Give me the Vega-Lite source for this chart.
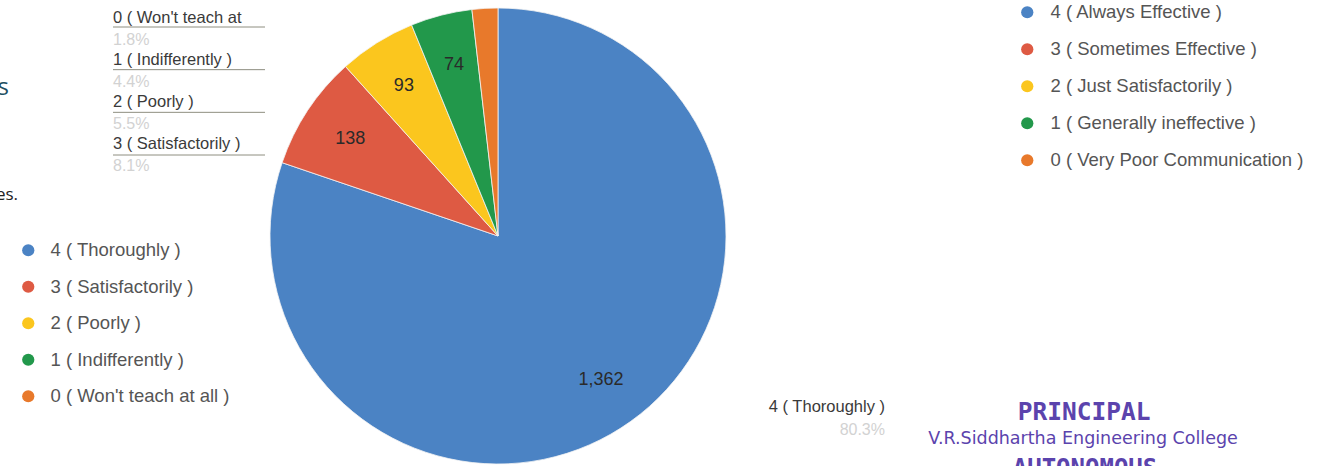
{
  "$schema": "https://vega.github.io/schema/vega-lite/v6.json",
  "autosize": {"type": "none"},
  "width": 1339,
  "height": 466,
  "padding": 0,
  "background": "#ffffff",
  "config": {"view": {"stroke": null}, "font": "Liberation Sans"},
  "datasets": {
    "teach": [
      {"key": 4, "label": "4 ( Thoroughly )", "callout": "4 ( Thoroughly )", "count": 1362, "pct": "80.3%"},
      {"key": 3, "label": "3 ( Satisfactorily )", "callout": "3 ( Satisfactorily )", "count": 138, "pct": "8.1%"},
      {"key": 2, "label": "2 ( Poorly )", "callout": "2 ( Poorly )", "count": 93, "pct": "5.5%"},
      {"key": 1, "label": "1 ( Indifferently )", "callout": "1 ( Indifferently )", "count": 74, "pct": "4.4%"},
      {"key": 0, "label": "0 ( Won't teach at all )", "callout": "0 ( Won't teach at", "count": 31, "pct": "1.8%"}
    ],
    "comm": [
      {"label": "4 ( Always Effective )"},
      {"label": "3 ( Sometimes Effective )"},
      {"label": "2 ( Just Satisfactorily )"},
      {"label": "1 ( Generally ineffective )"},
      {"label": "0 ( Very Poor Communication )"}
    ]
  },
  "layer": [
    {
      "data": {"name": "teach"},
      "mark": {"type": "arc", "x": 498, "y": 236, "outerRadius": 228, "stroke": "#f4f4f4", "strokeWidth": 0.8},
      "encoding": {
        "theta": {"field": "count", "type": "quantitative", "stack": true},
        "order": {"field": "key", "sort": "descending"},
        "color": {
          "field": "label", "type": "nominal",
          "scale": {
            "domain": ["4 ( Thoroughly )", "3 ( Satisfactorily )", "2 ( Poorly )", "1 ( Indifferently )", "0 ( Won't teach at all )"],
            "range": ["#4b83c4", "#de5a43", "#fbc61e", "#22984b", "#e8792b"]
          },
          "legend": {
            "orient": "none", "legendX": 19, "legendY": 241, "title": null,
            "symbolType": "circle", "symbolSize": 150, "symbolStrokeWidth": 0,
            "labelFont": "Liberation Sans", "labelFontSize": 18.5, "labelColor": "#555555",
            "labelOffset": 13, "rowPadding": 17.5, "labelLimit": 400
          }
        }
      }
    },
    {
      "data": {"name": "teach"},
      "transform": [{"filter": "datum.count > 50"}],
      "mark": {"type": "text", "x": 498, "y": 236, "radius": 177, "fontSize": 18, "fill": "#2a2a2a", "baseline": "middle", "align": "center"},
      "encoding": {
        "theta": {"field": "count", "type": "quantitative", "stack": true},
        "order": {"field": "key", "sort": "descending"},
        "text": {"field": "count", "type": "quantitative", "format": ","}
      }
    },
    {
      "data": {"name": "teach"},
      "transform": [{"filter": "datum.key < 4"}],
      "mark": {"type": "text", "x": 113, "align": "left", "baseline": "middle", "fontSize": 16.5, "fill": "#3a3a3a"},
      "encoding": {
        "y": {"field": "key", "type": "ordinal", "scale": {"type": "point", "domain": [0, 1, 2, 3], "range": [18, 144], "padding": 0}, "axis": null},
        "text": {"field": "callout", "type": "nominal"}
      }
    },
    {
      "data": {"name": "teach"},
      "transform": [{"filter": "datum.key < 4"}],
      "mark": {"type": "text", "x": 113, "align": "left", "baseline": "middle", "fontSize": 16, "fill": "#d2d2d2"},
      "encoding": {
        "y": {"field": "key", "type": "ordinal", "scale": {"type": "point", "domain": [0, 1, 2, 3], "range": [40, 166], "padding": 0}, "axis": null},
        "text": {"field": "pct", "type": "nominal"}
      }
    },
    {
      "data": {"name": "teach"},
      "transform": [{"filter": "datum.key < 4"}],
      "mark": {"type": "rule", "x": 113, "x2": 265, "stroke": "#8e8e80", "strokeWidth": 1},
      "encoding": {
        "y": {"field": "key", "type": "ordinal", "scale": {"type": "point", "domain": [0, 1, 2, 3], "range": [27, 155], "padding": 0}, "axis": null}
      }
    },
    {
      "data": {"name": "teach"},
      "transform": [{"filter": "datum.key == 0"}],
      "mark": {"type": "rule", "x": 265, "y": 27, "x2": 414, "y2": 24, "stroke": "#8e8e80", "strokeWidth": 1},
      "encoding": {}
    },
    {
      "data": {"name": "teach"},
      "transform": [{"filter": "datum.key == 1"}],
      "mark": {"type": "rule", "x": 265, "y": 71, "x2": 418, "y2": 33, "stroke": "#8e8e80", "strokeWidth": 1},
      "encoding": {}
    },
    {
      "data": {"name": "teach"},
      "transform": [{"filter": "datum.key == 2"}],
      "mark": {"type": "rule", "x": 265, "y": 113, "x2": 385, "y2": 52, "stroke": "#8e8e80", "strokeWidth": 1},
      "encoding": {}
    },
    {
      "data": {"name": "teach"},
      "transform": [{"filter": "datum.key == 3"}],
      "mark": {"type": "rule", "x": 265, "y": 155, "x2": 318, "y2": 117, "stroke": "#8e8e80", "strokeWidth": 1},
      "encoding": {}
    },
    {
      "data": {"name": "teach"},
      "transform": [{"filter": "datum.key == 4"}],
      "mark": {"type": "rule", "x": 627, "y": 417, "x2": 885, "y2": 417, "stroke": "#8e8e80", "strokeWidth": 1},
      "encoding": {}
    },
    {
      "data": {"name": "teach"},
      "transform": [{"filter": "datum.key == 4"}],
      "mark": {"type": "text", "x": 885, "y": 407, "align": "right", "baseline": "middle", "fontSize": 16.5, "fill": "#3a3a3a"},
      "encoding": {"text": {"field": "callout", "type": "nominal"}}
    },
    {
      "data": {"name": "teach"},
      "transform": [{"filter": "datum.key == 4"}],
      "mark": {"type": "text", "x": 885, "y": 430, "align": "right", "baseline": "middle", "fontSize": 16, "fill": "#d2d2d2"},
      "encoding": {"text": {"field": "pct", "type": "nominal"}}
    },
    {
      "data": {"name": "comm"},
      "mark": {"type": "point", "filled": true, "opacity": 0},
      "encoding": {
        "color": {
          "field": "label", "type": "nominal",
          "scale": {
            "domain": ["4 ( Always Effective )", "3 ( Sometimes Effective )", "2 ( Just Satisfactorily )", "1 ( Generally ineffective )", "0 ( Very Poor Communication )"],
            "range": ["#4b83c4", "#de5a43", "#fbc61e", "#22984b", "#e8792b"]
          },
          "legend": {
            "orient": "none", "legendX": 1018, "legendY": 3, "title": null,
            "symbolType": "circle", "symbolSize": 150, "symbolStrokeWidth": 0, "symbolOpacity": 1,
            "labelFont": "Liberation Sans", "labelFontSize": 18.5, "labelColor": "#555555",
            "labelOffset": 14, "rowPadding": 18, "labelLimit": 400
          }
        }
      }
    },
    {
      "data": {"values": [{}]},
      "mark": {"type": "text", "text": "s", "x": 9, "y": 88, "align": "right", "baseline": "middle", "font": "Open Sans", "fontSize": 24, "fill": "#1f4f62"},
      "encoding": {}
    },
    {
      "data": {"values": [{}]},
      "mark": {"type": "text", "text": "es.", "x": 18, "y": 195, "align": "right", "baseline": "middle", "font": "Open Sans", "fontSize": 17, "fill": "#222222"},
      "encoding": {}
    },
    {
      "data": {"values": [{}]},
      "mark": {"type": "text", "text": "PRINCIPAL", "x": 1084, "y": 413, "align": "center", "baseline": "middle", "font": "DejaVu Sans Mono", "fontWeight": "bold", "fontSize": 24.5, "fill": "#5b43ad"},
      "encoding": {}
    },
    {
      "data": {"values": [{}]},
      "mark": {"type": "text", "text": "V.R.Siddhartha Engineering College", "x": 1083, "y": 439, "align": "center", "baseline": "middle", "font": "DejaVu Sans", "fontSize": 17.5, "fill": "#5b43ad"},
      "encoding": {}
    },
    {
      "data": {"values": [{}]},
      "mark": {"type": "text", "text": "AUTONOMOUS", "x": 1085, "y": 457, "align": "center", "baseline": "top", "font": "DejaVu Sans Mono", "fontWeight": "bold", "fontSize": 24, "fill": "#5b43ad"},
      "encoding": {}
    }
  ],
  "resolve": {"scale": {"color": "independent", "y": "independent"}}
}
